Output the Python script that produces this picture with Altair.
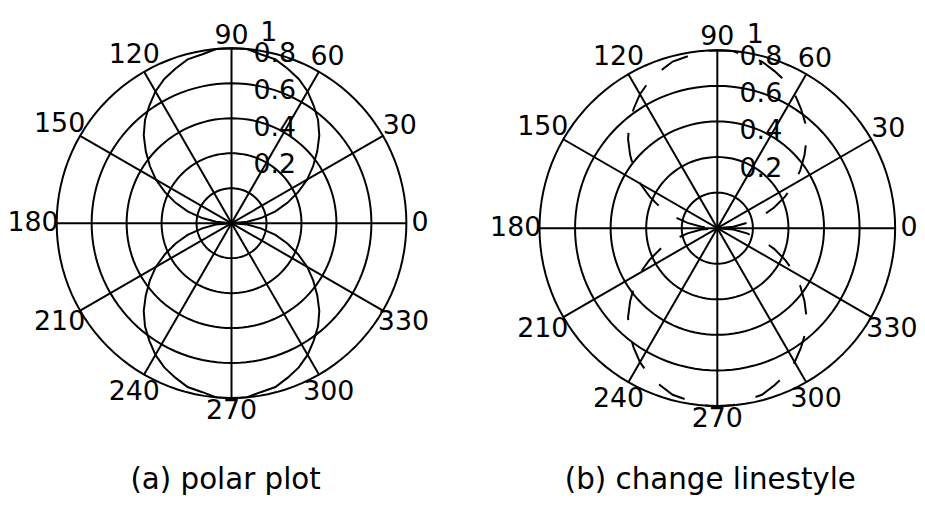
import altair as alt
import numpy as np
import pandas as pd

# ---- data (radius at every 5 degrees) ----
curve_angles = list(range(0, 361, 5))
curve_r = [0.0, 0.09, 0.17, 0.26, 0.34, 0.42, 0.5, 0.57, 0.64, 0.71, 0.77, 0.82, 0.87, 0.91, 0.94, 0.97, 0.98, 1.0,
           1.0, 1.0, 0.98, 0.97, 0.94, 0.91, 0.87, 0.82, 0.77, 0.71, 0.64, 0.57, 0.5, 0.42, 0.34, 0.26, 0.17, 0.09,
           0.0, 0.09, 0.17, 0.26, 0.34, 0.42, 0.5, 0.57, 0.64, 0.71, 0.77, 0.82, 0.87, 0.91, 0.94, 0.97, 0.98, 1.0,
           1.0, 1.0, 0.98, 0.97, 0.94, 0.91, 0.87, 0.82, 0.77, 0.71, 0.64, 0.57, 0.5, 0.42, 0.34, 0.26, 0.17, 0.09,
           0.0]
spoke_angles = [0, 30, 60, 90, 120, 150]
tick_angles = [0, 30, 60, 90, 120, 150, 180, 210, 240, 270, 300, 330]
tick_labels = ["0", "30", "60", "90", "120", "150", "180", "210", "240", "270", "300", "330"]
ring_values = [0.2, 0.4, 0.6, 0.8, 1.0]
ring_labels = ["0.2", "0.4", "0.6", "0.8", "1"]
captions = ["(a) polar plot", "(b) change linestyle"]

# ---- layout ----
W, H = 915, 490
FONT = "DejaVu Sans"
panels = [
    {"name": "a", "cx": 225.0, "cy": 215.0, "R": 176.0, "cap_x": 219.0, "cap_y": 474.0},
    {"name": "b", "cx": 714.0, "cy": 220.0, "R": 179.0, "cap_x": 707.0, "cap_y": 474.0},
]

ring_rows, spoke_rows, curve_rows, tick_rows, rlab_rows, cap_rows = [], [], [], [], [], []
circ_t = np.radians(np.arange(0, 361, 3))
for k, p in enumerate(panels):
    cx, cy, R = p["cx"], p["cy"], p["R"]
    for v in ring_values:
        for j, t in enumerate(circ_t):
            ring_rows.append({"g": f"{p['name']}{v}", "i": j,
                              "px": cx + R * v * np.cos(t), "py": cy - R * v * np.sin(t)})
    for a in spoke_angles:
        t = np.radians(a)
        spoke_rows.append({"px": cx + R * np.cos(t), "py": cy - R * np.sin(t),
                           "px2": cx - R * np.cos(t), "py2": cy + R * np.sin(t)})
    for j, (a, r) in enumerate(zip(curve_angles, curve_r)):
        t = np.radians(a)
        curve_rows.append({"panel": p["name"], "i": j,
                           "px": cx + R * r * np.cos(t), "py": cy - R * r * np.sin(t)})
    for a, lab in zip(tick_angles, tick_labels):
        t = np.radians(a)
        rl = 1.05 * R + 5 * len(lab) * abs(np.cos(t)) + 4 * abs(np.sin(t))
        tick_rows.append({"px": cx + rl * np.cos(t), "py": cy - rl * np.sin(t), "label": lab})
    for v, lab in zip(ring_values, ring_labels):
        if lab == "1":
            rlab_rows.append({"px": cx + 0.165 * R, "py": cy - 1.085 * R, "label": lab})
        else:
            rlab_rows.append({"px": cx + 0.125 * R, "py": cy - (1.05 * v + 0.125) * R, "label": lab})
    cap_rows.append({"px": p["cap_x"], "py": p["cap_y"], "label": captions[k]})

xs = alt.Scale(domain=[0, W], nice=False, zero=False)
ys = alt.Scale(domain=[0, H], nice=False, zero=False, reverse=True)
X = alt.X("px:Q", scale=xs, axis=None)
Y = alt.Y("py:Q", scale=ys, axis=None)

rings = alt.Chart(pd.DataFrame(ring_rows)).mark_line(color="black", strokeWidth=2).encode(
    x=X, y=Y, detail="g:N", order="i:Q")
spokes = alt.Chart(pd.DataFrame(spoke_rows)).mark_rule(color="black", strokeWidth=2).encode(
    x=X, y=Y, x2="px2:Q", y2="py2:Q")
cdf = pd.DataFrame(curve_rows)
curve_a = alt.Chart(cdf[cdf.panel == "a"]).mark_line(color="black", strokeWidth=2).encode(
    x=X, y=Y, order="i:Q")
curve_b = alt.Chart(cdf[cdf.panel == "b"]).mark_line(color="black", strokeWidth=2, strokeDash=[30, 22]).encode(
    x=X, y=Y, order="i:Q")
ticks = alt.Chart(pd.DataFrame(tick_rows)).mark_text(
    font=FONT, fontSize=27, color="black", align="center", baseline="middle").encode(x=X, y=Y, text="label:N")
rlabs = alt.Chart(pd.DataFrame(rlab_rows)).mark_text(
    font=FONT, fontSize=27, color="black", align="left", baseline="middle").encode(x=X, y=Y, text="label:N")
caps = alt.Chart(pd.DataFrame(cap_rows)).mark_text(
    font=FONT, fontSize=29.5, color="black", align="center", baseline="middle").encode(x=X, y=Y, text="label:N")

chart = alt.layer(rings, spokes, curve_a, curve_b, ticks, rlabs, caps).properties(
    width=W, height=H, autosize=alt.AutoSizeParams(type="none"), padding=0,
    background="white").configure_view(stroke=None)

chart.save("out.html", embed_options={"renderer": "svg", "actions": False})
